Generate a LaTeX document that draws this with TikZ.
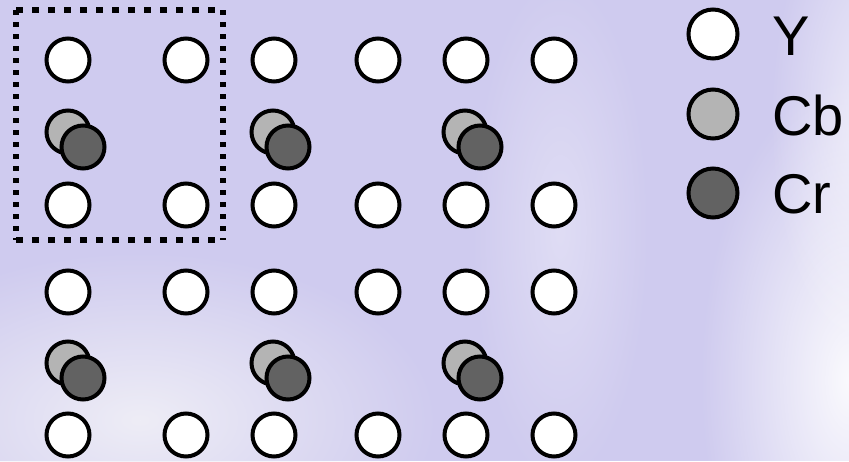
\documentclass[tikz,border=0pt]{standalone}
\usepackage{fontspec}
\setmainfont{Liberation Sans}
\usetikzlibrary{fadings}
\definecolor{ssBg}{HTML}{CFCBEF}
\definecolor{ssPale}{HTML}{EEEDF6}
\definecolor{ssCb}{HTML}{B4B4B4}
\definecolor{ssCr}{HTML}{626262}
\tikzfading[name=softspot, inner color=transparent!0, outer color=transparent!100]

\begin{document}
\begin{tikzpicture}[
  x=1pt, y=-1pt,
  dot/.style={circle,draw=black,line width=4pt,inner sep=0pt,minimum size=43pt},
  lum/.style={dot,fill=white},
  cb/.style={dot,fill=ssCb},
  cr/.style={dot,fill=ssCr},
  key/.style={dot,minimum size=49pt},
  keytxt/.style={anchor=base west,inner sep=0pt,font=\fontsize{56}{60}\selectfont},
  frame/.style={line width=6pt,draw=black},
]
\useasboundingbox (0,0) rectangle (849,461);
% background
\fill[ssBg] (0,0) rectangle (849,461);
\fill[ssPale,path fading=softspot] (140,420) ellipse [x radius=300pt, y radius=170pt];
\fill[white,opacity=.35,path fading=softspot] (560,230) ellipse [x radius=90pt, y radius=260pt];
\fill[white,opacity=.9,path fading=softspot] (850,380) ellipse [x radius=150pt, y radius=300pt];
\fill[white,opacity=.7,path fading=softspot] (880,120) ellipse [x radius=110pt, y radius=250pt];

% luma samples
\foreach \x [count=\i] in {68,186,274,378,466,554}
  \foreach \y [count=\j] in {60,205,292,435}
    \node[lum] (y\i\j) at (\x,\y) {};
% chroma samples
\foreach \x [count=\i] in {68,273,465}
  \foreach \y [count=\j] in {132,363} {
    \node[cb] (cb\i\j) at (\x,\y) {};
    \node[cr] (cr\i\j) at (\x+15,\y+15) {};
  }

% 2x2 block
\draw[frame,dash pattern=on 7pt off 9pt] (16,10) -- (223,10) (16,240) -- (223,240);
\draw[frame,dash pattern=on 5pt off 7pt] (16,10) -- (16,240) (223,10) -- (223,240);

% legend
\node[key,fill=white] (kY)  at (713,34)  {};
\node[key,fill=ssCb]  (kCb) at (713,114) {};
\node[key,fill=ssCr]  (kCr) at (713,193) {};
\node[keytxt] (tY)  at (772,55)  {Y};
\node[keytxt] (tCb) at (772,135) {Cb};
\node[keytxt] (tCr) at (772,213) {Cr};
\end{tikzpicture}
\end{document}
